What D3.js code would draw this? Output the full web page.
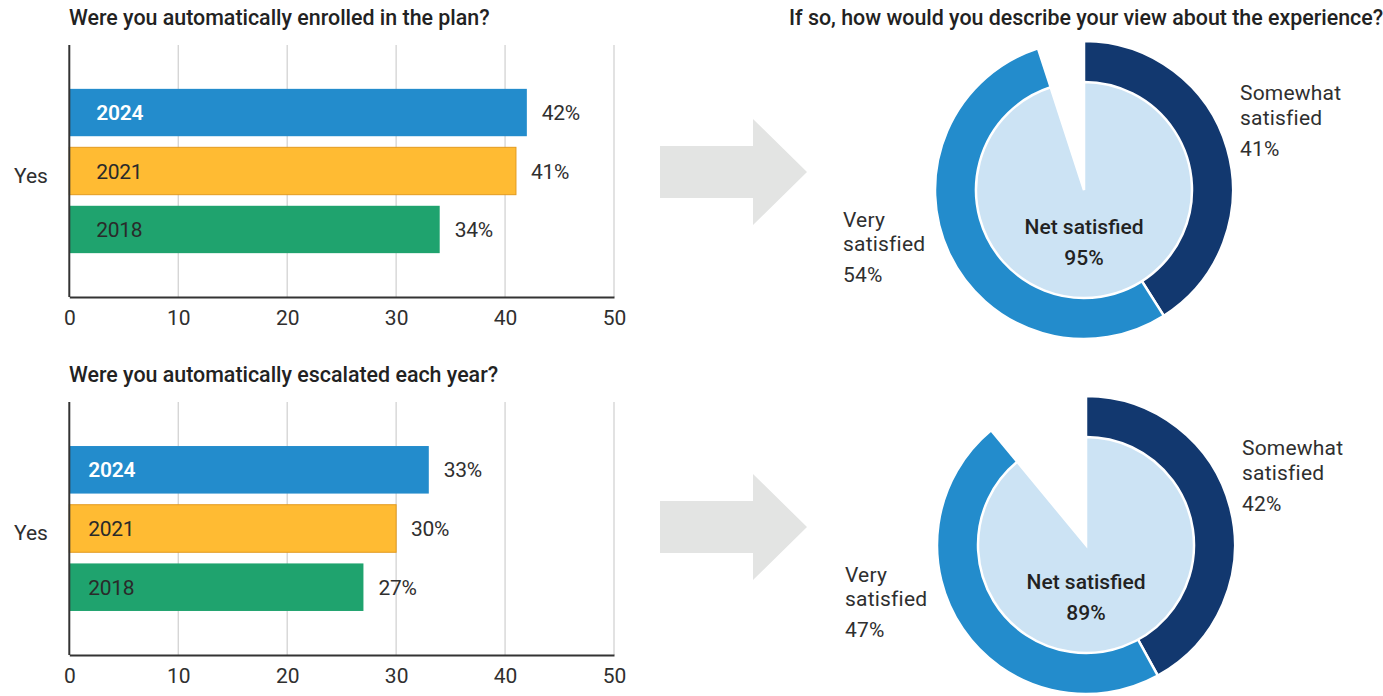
<!DOCTYPE html>
<html><head><meta charset="utf-8">
<script src="https://cdn.jsdelivr.net/npm/d3@7"></script>
<style>
body{margin:0;background:#fff;}
svg{display:block;font-family:Roboto, "Liberation Sans", sans-serif;}
</style></head>
<body><svg id="c" width="1383" height="696"></svg>
<script>
// ---- data ----
const years = ["2024", "2021", "2018"];
const enrolledValues = [42, 41, 34];
const escalatedValues = [33, 30, 27];
const xTicks = [0, 10, 20, 30, 40, 50];
const categoryLabel = "Yes";
const barTitles = ["Were you automatically enrolled in the plan?", "Were you automatically escalated each year?"];
const donutTitle = "If so, how would you describe your view about the experience?";
const ringLabels = ["Somewhat satisfied", "Very satisfied"];
const enrolledRing = [41, 54];
const escalatedRing = [42, 47];
const netLabel = "Net satisfied";
const enrolledNet = [95];
const escalatedNet = [89];

// ---- styles ----
const barColors = ["#238ccc", "#ffbb33", "#1fa36e"];
const barText = ["#ffffff", "#2a2a2a", "#2a2a2a"];
const ringColors = ["#12386f", "#238ccc"];
const netColor = "#cce3f4";
const textColor = "#2f2f2f";
const FS = 21;
const TITLE_FS = 21.4;

const svg = d3.select("#c");

function barChart(opts) {
  const {values, title, top, bottom, yearX} = opts;
  const g = svg.append("g");
  const x = d3.scaleLinear().domain([0, 50]).range([69.3, 614]);
  const y = d3.scaleBand().domain(years).range([top, bottom]).paddingInner(0.19).paddingOuter(0.75);

  g.append("text").attr("x", 69).attr("y", top - 20).attr("font-size", TITLE_FS).attr("font-weight", 500)
    .attr("fill", "#222").text(title);

  // grid
  g.selectAll("line.grid").data(xTicks.filter(d => d > 0)).join("line")
    .attr("x1", d => x(d)).attr("x2", d => x(d)).attr("y1", top).attr("y2", bottom)
    .attr("stroke", "#cfcfcf").attr("stroke-width", 1.2);

  // bars
  g.selectAll("rect.bar").data(values).join("rect")
    .attr("x", x(0)).attr("y", (d, i) => y(years[i]))
    .attr("width", d => x(d) - x(0)).attr("height", y.bandwidth())
    .attr("fill", (d, i) => barColors[i])
    .attr("stroke", (d, i) => i === 1 ? "#e39a1e" : "none").attr("stroke-width", 1);

  g.selectAll("text.yr").data(values).join("text")
    .attr("x", x(0) + yearX).attr("y", (d, i) => y(years[i]) + y.bandwidth() / 2)
    .attr("dy", "0.36em").attr("font-size", FS).attr("letter-spacing", -0.3)
    .attr("font-weight", (d, i) => i === 0 ? 600 : 400)
    .attr("fill", (d, i) => barText[i]).text((d, i) => years[i]);

  g.selectAll("text.val").data(values).join("text")
    .attr("x", d => x(d) + 15).attr("y", (d, i) => y(years[i]) + y.bandwidth() / 2)
    .attr("dy", "0.36em").attr("font-size", FS).attr("letter-spacing", -0.3)
    .attr("fill", textColor).text(d => d + "%");

  g.append("text").attr("x", 14).attr("y", (top + bottom) / 2 + 4).attr("dy", "0.36em")
    .attr("font-size", FS).attr("fill", textColor).text(categoryLabel);

  // axes lines
  g.append("line").attr("x1", x(0)).attr("x2", x(0)).attr("y1", top).attr("y2", bottom)
    .attr("stroke", "#333").attr("stroke-width", 2);
  const ax = g.append("g").attr("transform", `translate(0,${bottom})`)
    .call(d3.axisBottom(x).tickValues(xTicks).tickSize(0).tickPadding(13));
  ax.select(".domain").attr("stroke", "#333").attr("stroke-width", 2);
  ax.selectAll("text").attr("font-size", FS).attr("fill", textColor).attr("font-family", "Roboto, sans-serif");
}

barChart({values: enrolledValues, title: barTitles[0], top: 45, bottom: 297, yearX: 27});
barChart({values: escalatedValues, title: barTitles[1], top: 402, bottom: 655, yearX: 19});

// arrows
function arrow(cy) {
  const pts = [[660, cy - 26], [753, cy - 26], [753, cy - 53], [807, cy], [753, cy + 53], [753, cy + 26], [660, cy + 26]];
  svg.append("polygon").attr("points", pts.map(p => p.join(",")).join(" ")).attr("fill", "#e3e4e3");
}
arrow(172);
arrow(527);

svg.append("text").attr("x", 789).attr("y", 25).attr("font-size", TITLE_FS).attr("font-weight", 500)
  .attr("fill", "#222").text(donutTitle);

function donut(opts) {
  const {cx, cy, ring, net, labelRightY, labelLeftY} = opts;
  const g = svg.append("g").attr("transform", `translate(${cx},${cy})`);
  const total = d3.sum(ring);
  const pie = d3.pie().sort(null).startAngle(0).endAngle(2 * Math.PI * total / 100);
  const ringArc = d3.arc().innerRadius(107).outerRadius(149);
  g.selectAll("path.ring").data(pie(ring)).join("path")
    .attr("d", ringArc).attr("fill", (d, i) => ringColors[i]).attr("stroke", "#fff").attr("stroke-width", 2.5);

  const netPie = d3.pie().sort(null).startAngle(0).endAngle(2 * Math.PI * net[0] / 100);
  g.selectAll("path.net").data(netPie(net)).join("path")
    .attr("d", d3.arc().innerRadius(0).outerRadius(108)).attr("fill", netColor)
    .attr("stroke", "#fff").attr("stroke-width", 2.5);

  g.append("text").attr("x", 0).attr("y", 44).attr("text-anchor", "middle").attr("font-size", FS)
    .attr("font-weight", 500).attr("fill", "#222").text(netLabel);
  g.append("text").attr("x", 0).attr("y", 75).attr("text-anchor", "middle").attr("font-size", FS)
    .attr("font-weight", 500).attr("fill", "#222").text(net[0] + "%");

  const lr = svg.append("text").attr("font-size", FS).attr("fill", textColor).attr("letter-spacing", 0.2);
  const rWords = ringLabels[0].split(" ");
  [rWords[0], rWords[1], ring[0] + "%"].forEach((t, i) => {
    lr.append("tspan").attr("x", cx + 156).attr("y", labelRightY + [0, 25, 56][i]).text(t);
  });
  const ll = svg.append("text").attr("font-size", FS).attr("fill", textColor).attr("letter-spacing", 0.2);
  const lWords = ringLabels[1].split(" ");
  [lWords[0], lWords[1], ring[1] + "%"].forEach((t, i) => {
    ll.append("tspan").attr("x", cx - 241).attr("y", labelLeftY + [0, 24, 55][i]).text(t);
  });
}

donut({cx: 1084, cy: 190, ring: enrolledRing, net: enrolledNet, labelRightY: 100, labelLeftY: 227});
donut({cx: 1086, cy: 545, ring: escalatedRing, net: escalatedNet, labelRightY: 455, labelLeftY: 582});
</script></body></html>
